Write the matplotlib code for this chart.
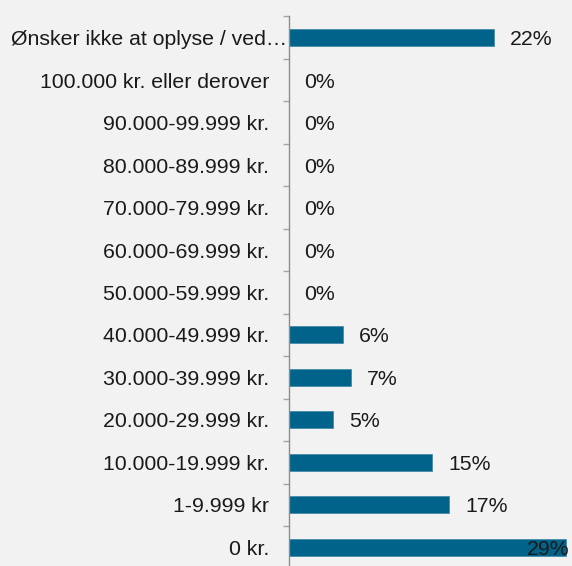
import numpy as np
import matplotlib.pyplot as plt

plt.rcParams['font.family'] = ['Liberation Sans', 'DejaVu Sans']

# categories top to bottom
categories = [
    "Ønsker ikke at oplyse / ved…",
    "100.000 kr. eller derover",
    "90.000-99.999 kr.",
    "80.000-89.999 kr.",
    "70.000-79.999 kr.",
    "60.000-69.999 kr.",
    "50.000-59.999 kr.",
    "40.000-49.999 kr.",
    "30.000-39.999 kr.",
    "20.000-29.999 kr.",
    "10.000-19.999 kr.",
    "1-9.999 kr",
    "0 kr.",
]
values = [21.6, 0, 0, 0, 0, 0, 0, 5.7, 6.6, 4.7, 15.1, 16.9, 29.2]

BG = "#F2F2F2"
BAR = "#00638A"
TXT = "#1A1A1A"
FS = 15.3

fig = plt.figure(figsize=(5.72, 5.66), dpi=100, facecolor=BG)
ax = fig.add_axes([288.5 / 572, -2.5 / 566, 283.5 / 572, 552 / 566])
ax.set_facecolor(BG)

y = np.arange(len(categories))
ax.barh(y, values, height=0.4, color=BAR, edgecolor="#3C86A6", linewidth=0.5)

xmax = 29.84
ax.set_xlim(0, xmax)
ax.set_ylim(len(categories) - 0.5, -0.5)

# axis styling
for s in ["top", "right", "bottom"]:
    ax.spines[s].set_visible(False)
ax.spines["left"].set_color("#8C8C8C")
ax.spines["left"].set_linewidth(1.0)
ax.set_xticks([])
ax.set_yticks(y)
ax.set_yticklabels([])
ax.tick_params(axis="y", which="major", length=0)
ax.set_yticks(np.arange(-0.5, len(categories) - 0.4, 1), minor=True)
ax.tick_params(axis="y", which="minor", length=4.5, width=1.0, color="#A6A6A6")

# category labels
for i, lab in enumerate(categories):
    off = -1 if i == 0 else -14
    ax.annotate(lab, xy=(0, i), xytext=(off, 0), textcoords="offset points",
                ha="right", va="center_baseline", fontsize=FS, color=TXT,
                annotation_clip=False)

# value labels
for i, v in enumerate(values):
    txt = f"{round(v):.0f}%"
    if v > xmax - 3:
        ax.annotate(txt, xy=(xmax, i), xytext=(-1.5, 0), textcoords="offset points",
                    ha="right", va="center_baseline", fontsize=FS, color=TXT)
    else:
        ax.annotate(txt, xy=(v, i), xytext=(11.5, 0), textcoords="offset points",
                    ha="left", va="center_baseline", fontsize=FS, color=TXT)

fig.savefig("out.png", dpi=100, facecolor=BG)
